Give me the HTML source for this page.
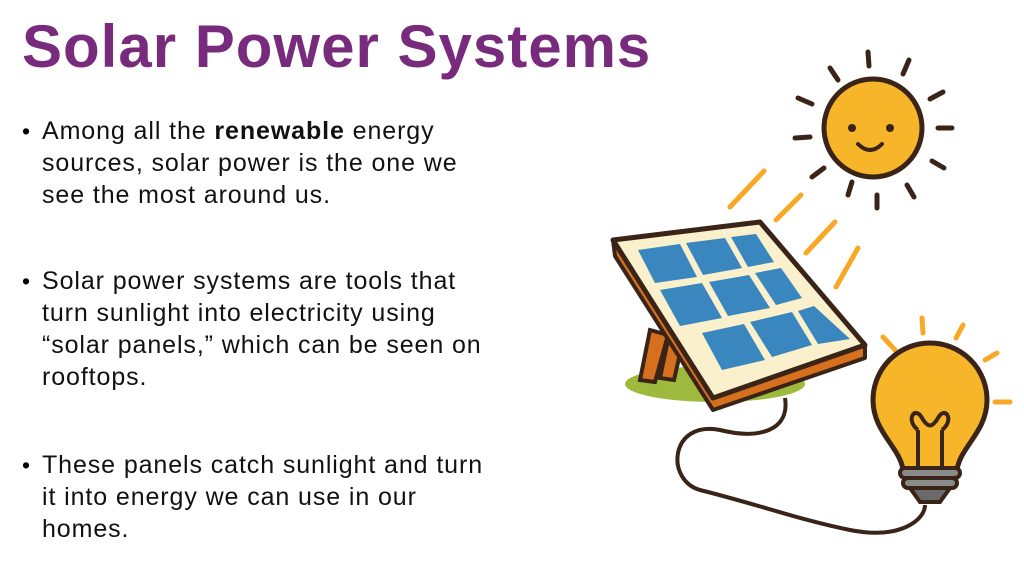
<!DOCTYPE html>
<html><head><meta charset="utf-8"><style>
body{margin:0;width:1024px;height:576px;background:#fff;position:relative;overflow:hidden;font-family:"Liberation Sans",sans-serif}
h1{position:absolute;left:22px;top:12px;margin:0;font-size:60px;color:#782a7d;font-weight:bold;letter-spacing:1px;white-space:nowrap}
.l{position:absolute;left:42px;font-size:25px;letter-spacing:0.9px;color:#111;white-space:nowrap;line-height:32px}
.b{position:absolute;left:22px;font-size:23px;line-height:32px}
</style></head><body>
<h1>Solar Power Systems</h1>
<div class="b" style="top:115px">•</div>
<div class="l" style="top:115px">Among all the <b>renewable</b> energy</div>
<div class="l" style="top:147px">sources, solar power is the one we</div>
<div class="l" style="top:179px">see the most around us.</div>
<div class="b" style="top:265px">•</div>
<div class="l" style="top:265px">Solar power systems are tools that</div>
<div class="l" style="top:297px">turn sunlight into electricity using</div>
<div class="l" style="top:329px">“solar panels,” which can be seen on</div>
<div class="l" style="top:361px">rooftops.</div>
<div class="b" style="top:449px">•</div>
<div class="l" style="top:449px">These panels catch sunlight and turn</div>
<div class="l" style="top:481px">it into energy we can use in our</div>
<div class="l" style="top:513px">homes.</div>
<svg style="position:absolute;left:0;top:0" width="1024" height="576">
<g stroke="#3a2418" stroke-width="5" stroke-linecap="round">
<line x1="868" y1="52" x2="869" y2="66"/><line x1="830" y1="68" x2="838" y2="80"/><line x1="909" y1="60" x2="903" y2="74"/>
<line x1="798" y1="98" x2="812" y2="104"/><line x1="943" y1="92" x2="930" y2="99"/>
<line x1="795" y1="138" x2="810" y2="137"/><line x1="938" y1="128" x2="952" y2="128"/>
<line x1="812" y1="177" x2="824" y2="168"/><line x1="932" y1="161" x2="944" y2="168"/>
<line x1="848" y1="195" x2="852" y2="182"/><line x1="877" y1="195" x2="877" y2="208"/><line x1="907" y1="185" x2="914" y2="197"/>
</g>
<circle cx="873" cy="128" r="49" fill="#f7b52a" stroke="#3a2418" stroke-width="5"/>
<circle cx="852" cy="128" r="4" fill="#3a2418"/><circle cx="890" cy="128" r="4" fill="#3a2418"/>
<path d="M858 144 Q870 156 882 144" fill="none" stroke="#3a2418" stroke-width="4" stroke-linecap="round"/>
<g stroke="#f8a825" stroke-width="5" stroke-linecap="round">
<line x1="730" y1="207" x2="764" y2="171"/><line x1="776" y1="220" x2="801" y2="195"/>
<line x1="806" y1="253" x2="835" y2="222"/><line x1="836" y1="287" x2="858" y2="248"/>
<line x1="883" y1="337" x2="895" y2="350"/><line x1="922" y1="318" x2="923" y2="333"/><line x1="963" y1="325" x2="956" y2="338"/>
<line x1="985" y1="360" x2="997" y2="353"/><line x1="995" y1="402" x2="1010" y2="402"/>
</g>
<ellipse cx="715" cy="384" rx="90" ry="18" fill="#9dba3e"/>
<path d="M650 330 L640 380 L655 382 L668 335 Z" fill="#d7701e" stroke="#3a2418" stroke-width="4"/>
<path d="M668 340 L660 378 L674 380 L682 345 Z" fill="#d7701e" stroke="#3a2418" stroke-width="4"/>
<path d="M613 240 L615 256 L713 410 L865 358 L865 345 Z" fill="#d7701e" stroke="#3a2418" stroke-width="4" stroke-linejoin="round"/>
<path d="M613 240 L760 222 L865 345 L713 398 Z" fill="#fbf0cc" stroke="#3a2418" stroke-width="5" stroke-linejoin="round"/>
<g fill="#3a87c0">
<path d="M638 250 L680 244 L697 277 L655 283Z"/><path d="M686 243 L725 238 L742 268 L703 275Z"/><path d="M731 237 L756 234 L774 262 L748 267Z"/>
<path d="M660 290 L702 283 L722 318 L680 326Z"/><path d="M709 282 L749 275 L770 308 L728 316Z"/><path d="M755 273 L781 268 L802 298 L776 305Z"/>
<path d="M702 333 L744 324 L765 360 L722 370Z"/><path d="M750 322 L792 312 L812 345 L772 357Z"/><path d="M798 311 L814 306 L850 339 L818 344Z"/>
</g>
<path d="M785 398 C790 430 760 440 720 430 C670 420 665 480 700 490 C760 505 800 520 850 530 C900 540 925 520 925 505" fill="none" stroke="#3a2418" stroke-width="4"/>
<path d="M903 470 C900 447 873 432 873 400 A57 57 0 1 1 987 400 C987 432 960 447 957 470 Z" fill="#f7b52a" stroke="#3a2418" stroke-width="5"/>
<path d="M918 467 L918 430 M942 467 L942 430 M918 430 C905 420 915 405 922 418 C928 428 932 428 938 418 C945 405 955 420 942 430" fill="none" stroke="#3a2418" stroke-width="4"/>
<rect x="900" y="468" width="60" height="10" rx="5" fill="#8a8a8a" stroke="#3a2418" stroke-width="4"/>
<rect x="903" y="478" width="54" height="10" rx="5" fill="#8a8a8a" stroke="#3a2418" stroke-width="4"/>
<path d="M910 488 L950 488 L940 502 L920 502 Z" fill="#6a6a6a" stroke="#3a2418" stroke-width="4"/>
</svg>
</body></html>
